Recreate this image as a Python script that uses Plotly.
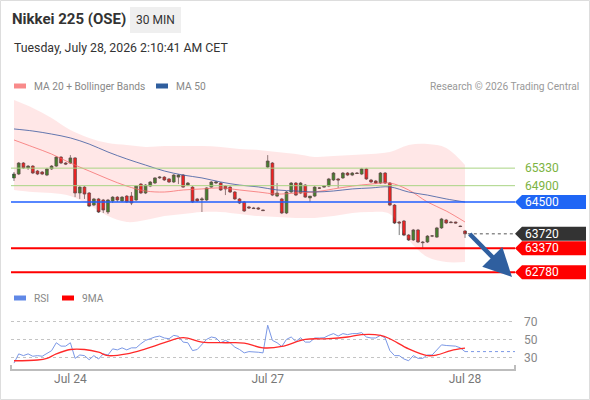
import plotly.graph_objects as go

# 30 min bars, Jul 24 -> Jul 28 (index on x axis)
bars = list(range(97))

open_ = [65090, 65185, 65455, 65335, 65380, 65260, 65235, 65160, 65310, 65380,
         65600, 65455, 65455, 65580, 64720, 64865, 64720, 64425, 64575, 64550,
         64255, 64525, 64620, 64525, 64645, 64645, 64550, 64940, 64720, 64890,
         64965, 65090, 65110, 65065, 64990, 65110, 65160, 64915, 64865, 64575,
         64550, 64550, 64865, 64965, 64965, 64890, 64865, 64745, 64575, 64500,
         64380, 64355, 64355, 64305, 65355, 65455, 64645, 64575, 64230, 64745,
         64965, 64720, 64915, 64600, 64645, 64845, 64865, 64890, 65040, 65065,
         65090, 65210, 65160, 65210, 65185, 65310, 65040, 65015, 64965, 65210,
         64965, 64425, 64010, 64035, 63690, 63570, 63815, 63520, 63520, 63665,
         63640, 63865, 64060, 64010, 64010, 63910, 63790]
high = [65235, 65480, 65480, 65405, 65405, 65285, 65260, 65335, 65405, 65625,
        65625, 65480, 65650, 65600, 64890, 64890, 64745, 64600, 64600, 64575,
        64575, 64645, 64645, 64645, 64670, 64745, 64900, 64965, 64940, 65015,
        65110, 65135, 65135, 65090, 65185, 65185, 65185, 64990, 64890, 64600,
        64620, 64865, 65015, 65015, 64990, 64915, 64890, 64770, 64600, 64525,
        64405, 64380, 64380, 64315, 65650, 65480, 64965, 64600, 64770, 64990,
        64990, 64990, 64940, 64645, 64890, 64865, 64890, 65090, 65235, 65090,
        65235, 65235, 65235, 65235, 65335, 65335, 65065, 65040, 65235, 65235,
        64990, 64450, 64035, 64060, 63715, 63840, 63840, 63545, 63690, 63690,
        63890, 64110, 64085, 64035, 64020, 63925, 63815]
low = [65015, 65160, 65310, 65285, 65185, 65160, 65160, 65135, 65285, 65355,
       65430, 65405, 65430, 64620, 64575, 64575, 64375, 64400, 64230, 64230,
       64205, 64475, 64500, 64500, 64475, 64425, 64525, 64695, 64695, 64865,
       64940, 65065, 65015, 64965, 64965, 64940, 64845, 64890, 64475, 64500,
       64255, 64525, 64845, 64940, 64770, 64670, 64720, 64550, 64450, 64255,
       64330, 64330, 64305, 64280, 65330, 64645, 64620, 64205, 64205, 64720,
       64645, 64695, 64600, 64500, 64620, 64820, 64845, 64865, 65015, 64845,
       65065, 65135, 65135, 65185, 65160, 65040, 64965, 64940, 64940, 64940,
       64400, 63960, 63690, 63665, 63545, 63545, 63495, 63375, 63495, 63640,
       63620, 63840, 63960, 63985, 63970, 63885, 63620]
close = [65185, 65455, 65335, 65380, 65210, 65185, 65185, 65310, 65380, 65600,
         65455, 65430, 65580, 64720, 64865, 64695, 64400, 64575, 64255, 64305,
         64550, 64620, 64550, 64620, 64500, 64475, 64890, 64720, 64915, 64990,
         65090, 65110, 65040, 64990, 65160, 65160, 64865, 64965, 64500, 64525,
         64575, 64845, 64990, 64990, 64795, 64820, 64745, 64575, 64475, 64280,
         64355, 64340, 64330, 64290, 65505, 64670, 64720, 64230, 64745, 64965,
         64670, 64965, 64620, 64645, 64865, 64840, 64890, 65065, 65210, 65040,
         65210, 65160, 65210, 65200, 65310, 65065, 64990, 64965, 65210, 64965,
         64425, 63985, 63985, 63690, 63570, 63815, 63520, 63505, 63665, 63670,
         63865, 64085, 63985, 63995, 63985, 63900, 63720]

# moving averages / bands read every 4 bars
band_idx = list(range(0, 97, 4))
bb_upper = [67000, 66805, 66560, 66265, 66070, 65945, 65895, 65850, 65870, 65870,
            65870, 65850, 65800, 65775, 65725, 65675, 65605, 65625, 65650, 65675,
            65725, 65895, 65920, 65825, 65405]
bb_lower = [64795, 64745, 64720, 64645, 64425, 64155, 64010, 64060, 64155, 64205,
            64255, 64255, 64205, 64155, 64130, 64110, 64110, 64155, 64230, 64255,
            64205, 63570, 63150, 63030, 63030]
ma20 = [66020, 65850, 65675, 65455, 65260, 65065, 64890, 64770, 64745, 64795,
        64820, 64845, 64795, 64745, 64695, 64720, 64745, 64820, 64890, 64940,
        64965, 64795, 64500, 64280, 64010]
ma50 = [66290, 66240, 66165, 66070, 65920, 65725, 65555, 65405, 65260, 65160,
        65090, 64990, 64915, 64870, 64795, 64770, 64745, 64770, 64820, 64845,
        64870, 64745, 64670, 64575, 64500]

rsi = [24.4, 34.5, 32.6, 34.5, 31.9, 32.6, 31.9, 34.5, 38, 46.7,
       43, 43, 46.7, 29.6, 33.3, 32.6, 28.1, 32.6, 28.9, 34.5,
       33.3, 40, 38.9, 41.1, 38.9, 41.1, 41.1, 45.6, 49.3, 51.1,
       53, 54, 51.9, 51.1, 54.8, 53.7, 47.4, 46.7, 38.1, 39.3,
       44.4, 50.4, 53, 51.9, 46.7, 49.3, 46.7, 41.9, 39.3, 35.6,
       37, 37, 36.3, 35.6, 65.9, 49.3, 46.7, 42.6, 50.4, 53,
       48.1, 52.2, 47.4, 47.4, 51.9, 51.9, 52.2, 54.8, 56.7, 54,
       56.7, 55.6, 56.7, 56.7, 57.8, 53, 51.9, 51.9, 54.8, 51.9,
       38.1, 32.6, 32.6, 28.9, 27, 32.6, 29.6, 29.6, 33.3, 33.3,
       39.3, 44.4, 43.7, 43, 43, 41.1, 37]
rsi_ma_idx = [0, 5, 7, 9, 12, 15, 18, 20, 24, 28, 32, 36, 40, 45, 49, 53, 57,
              62, 67, 71, 74, 78, 80, 84, 88, 90, 93, 96]
rsi_ma = [27, 27.8, 29.6, 34.5, 39.3, 39.3, 36.3, 32.6, 34.5, 40, 46.7, 52.2,
          47.4, 46.7, 46.3, 41.1, 42.6, 50.4, 51.1, 53, 55.6, 54.8, 51.1, 40,
          32.6, 33.3, 38.1, 40.7]

tick_bars = [12, 54, 96]
tick_text = ["Jul 24", "Jul 27", "Jul 28"]

resistances = [65330, 64900]
pivot = 64500
last_price = 63720
supports = [63370, 62780]

# forecast arrow: tail near the last bar, head just under the second support
arrow_tail = (97, 63716)
arrow_head = (106, 62665)

X_MIN, X_MAX = -0.64, 106.64
Y_MIN, Y_MAX = 62540, 67122
FONT = "Roboto, Arial, sans-serif"


# pixel helpers for things drawn outside the plot area
def px(x):
    return (x - 11) / 504


def py(y):
    return (370 - y) / 275


fig = go.Figure()

fig.add_trace(go.Scatter(x=band_idx, y=bb_upper, mode="lines",
                         line=dict(width=0, shape="spline"), hoverinfo="skip"))
fig.add_trace(go.Scatter(x=band_idx, y=bb_lower, mode="lines",
                         line=dict(width=0, shape="spline"), fill="tonexty",
                         fillcolor="rgba(255,110,110,0.17)", hoverinfo="skip"))
fig.add_trace(go.Scatter(x=band_idx, y=ma20, mode="lines",
                         line=dict(color="rgba(245,105,105,0.75)", width=1, shape="spline")))
fig.add_trace(go.Scatter(x=band_idx, y=ma50, mode="lines",
                         line=dict(color="rgba(60,90,160,0.8)", width=1, shape="spline")))

fig.add_trace(go.Candlestick(
    x=bars, open=open_, high=high, low=low, close=close,
    increasing=dict(fillcolor="#1f851f", line=dict(color="#444444", width=0.7)),
    decreasing=dict(fillcolor="#ee1111", line=dict(color="#444444", width=0.7)),
    whiskerwidth=0,
))

fig.add_trace(go.Scatter(x=bars, y=rsi, yaxis="y2", mode="lines",
                         line=dict(color="#7b98e6", width=1)))
fig.add_trace(go.Scatter(x=rsi_ma_idx, y=rsi_ma, yaxis="y2", mode="lines",
                         line=dict(color="#ff2a2a", width=1.3, shape="spline")))

shapes = []
annotations = []


def price_box(level, color):
    h = 7 * (Y_MAX - Y_MIN) / 187
    path = (f"M 1,{level} L {px(522)},{level + h} L {px(586)},{level + h} "
            f"L {px(586)},{level - h} L {px(522)},{level - h} Z")
    shapes.append(dict(type="path", path=path, xref="paper", yref="y",
                       fillcolor=color, line=dict(width=0)))
    annotations.append(dict(x=px(523), y=level, xref="paper", yref="y", text=str(level),
                            showarrow=False, xanchor="left", yanchor="middle",
                            font=dict(color="white", size=12, family=FONT)))


for lv in resistances:
    shapes.append(dict(type="line", xref="paper", yref="y", x0=0, x1=1, y0=lv, y1=lv,
                       line=dict(color="#a9d483", width=1)))
    annotations.append(dict(x=px(523), y=lv, xref="paper", yref="y", text=str(lv),
                            showarrow=False, xanchor="left", yanchor="middle",
                            font=dict(color="#7cb342", size=12, family=FONT)))

shapes.append(dict(type="line", xref="paper", yref="y", x0=0, x1=1, y0=pivot, y1=pivot,
                   line=dict(color="#1f5fff", width=1.3)))
price_box(pivot, "#1f66f5")

for lv in supports:
    shapes.append(dict(type="line", xref="paper", yref="y", x0=0, x1=1, y0=lv, y1=lv,
                       line=dict(color="#ff0000", width=2)))

shapes.append(dict(type="line", xref="x", yref="y", x0=bars[-1] + 0.6, x1=X_MAX,
                   y0=last_price, y1=last_price, line=dict(color="#555", width=1, dash="dot")))
price_box(last_price, "#333333")
for lv in supports:
    price_box(lv, "#ff0000")

# forecast arrow: shaft as a line, head from an annotation
tx, ty = arrow_tail
hx, hy = arrow_head
shapes.append(dict(type="line", xref="x", yref="y",
                   x0=tx, y0=ty, x1=tx + 0.8 * (hx - tx), y1=ty + 0.8 * (hy - ty),
                   line=dict(color="#2f5f9f", width=4.5)))
annotations.append(dict(x=hx, y=hy, ax=tx + 0.55 * (hx - tx), ay=ty + 0.55 * (hy - ty),
                        xref="x", yref="y", axref="x", ayref="y", text="",
                        font=dict(size=1), showarrow=True, arrowhead=2, arrowsize=1.25,
                        arrowwidth=4.5, arrowcolor="#2f5f9f"))

# RSI last value extension
shapes.append(dict(type="line", xref="x", yref="y2", x0=bars[-1], x1=X_MAX,
                   y0=rsi[-1], y1=rsi[-1], line=dict(color="#7b98e6", width=1, dash="dot")))

# bottom axis bracket
shapes.append(dict(type="path", xref="paper", yref="paper",
                   path=f"M 0,{py(365)} L 0,{py(370)} L 1,{py(370)} L 1,{py(365)}",
                   line=dict(color="#bdbdbd", width=2)))

# outer frame
shapes.append(dict(type="rect", xref="paper", yref="paper", x0=px(0.5), x1=px(589.5),
                   y0=py(399.5), y1=py(0.5), line=dict(color="#dddddd", width=1)))

# header
annotations.append(dict(x=px(10), y=py(19), xref="paper", yref="paper",
                        text="<b>Nikkei 225 (OSE)</b>", showarrow=False,
                        xanchor="left", yanchor="middle",
                        font=dict(size=15, color="#333", family=FONT)))
shapes.append(dict(type="rect", xref="paper", yref="paper", x0=px(130), x1=px(181),
                   y0=py(33), y1=py(7), fillcolor="#efefef", line=dict(width=0)))
annotations.append(dict(x=px(155.5), y=py(20), xref="paper", yref="paper", text="30 MIN",
                        showarrow=False, xanchor="center", yanchor="middle",
                        font=dict(size=12, color="#333", family=FONT)))
annotations.append(dict(x=px(12), y=py(48), xref="paper", yref="paper",
                        text="Tuesday, July 28, 2026 2:10:41 AM CET", showarrow=False,
                        xanchor="left", yanchor="middle",
                        font=dict(size=12.3, color="#333", family=FONT)))


def legend_item(x_sw, y, color, label):
    shapes.append(dict(type="rect", xref="paper", yref="paper", x0=px(x_sw), x1=px(x_sw + 12),
                       y0=py(y + 2.5), y1=py(y - 2.5), fillcolor=color, line=dict(width=0)))
    annotations.append(dict(x=px(x_sw + 18), y=py(y), xref="paper", yref="paper", text=label,
                            showarrow=False, xanchor="left", yanchor="middle",
                            font=dict(size=10.2, color="#888", family=FONT)))


legend_item(14, 86, "#f88a8a", "MA 20 + Bollinger Bands")
legend_item(156, 86, "#2f5e9e", "MA 50")
legend_item(14, 298, "#6088e6", "RSI")
legend_item(62, 298, "#ff0000", "9MA")
annotations.append(dict(x=px(581), y=py(86), xref="paper", yref="paper",
                        text="Research © 2026 Trading Central", showarrow=False,
                        xanchor="right", yanchor="middle",
                        font=dict(size=10.2, color="#999", family=FONT)))

fig.update_layout(
    width=590, height=400,
    margin=dict(l=11, r=75, t=95, b=30),
    paper_bgcolor="white", plot_bgcolor="white",
    showlegend=False,
    font=dict(family=FONT),
    boxgap=0.15,
    hovermode=False,
    xaxis=dict(range=[X_MIN, X_MAX], anchor="y2", tickvals=tick_bars, ticktext=tick_text,
               showgrid=False, zeroline=False, showline=False, ticks="",
               tickfont=dict(size=12, color="#777"), rangeslider=dict(visible=False)),
    yaxis=dict(domain=[0.32, 1], range=[Y_MIN, Y_MAX], visible=False, anchor="x"),
    yaxis2=dict(domain=[0, 0.211], range=[16.85, 80.4], anchor="x", side="right",
                tickvals=[30, 50, 70], showgrid=True, gridcolor="#c4c4c4", griddash="dot",
                zeroline=False, showline=False, ticklabelstandoff=8,
                tickfont=dict(size=12, color="#888")),
    shapes=shapes,
    annotations=annotations,
)

# the page body has a default 8px margin; remove it so the figure sits at 0,0
fig.write_html("out.html", config={"displayModeBar": False},
               post_script="document.body.style.margin='0';")
